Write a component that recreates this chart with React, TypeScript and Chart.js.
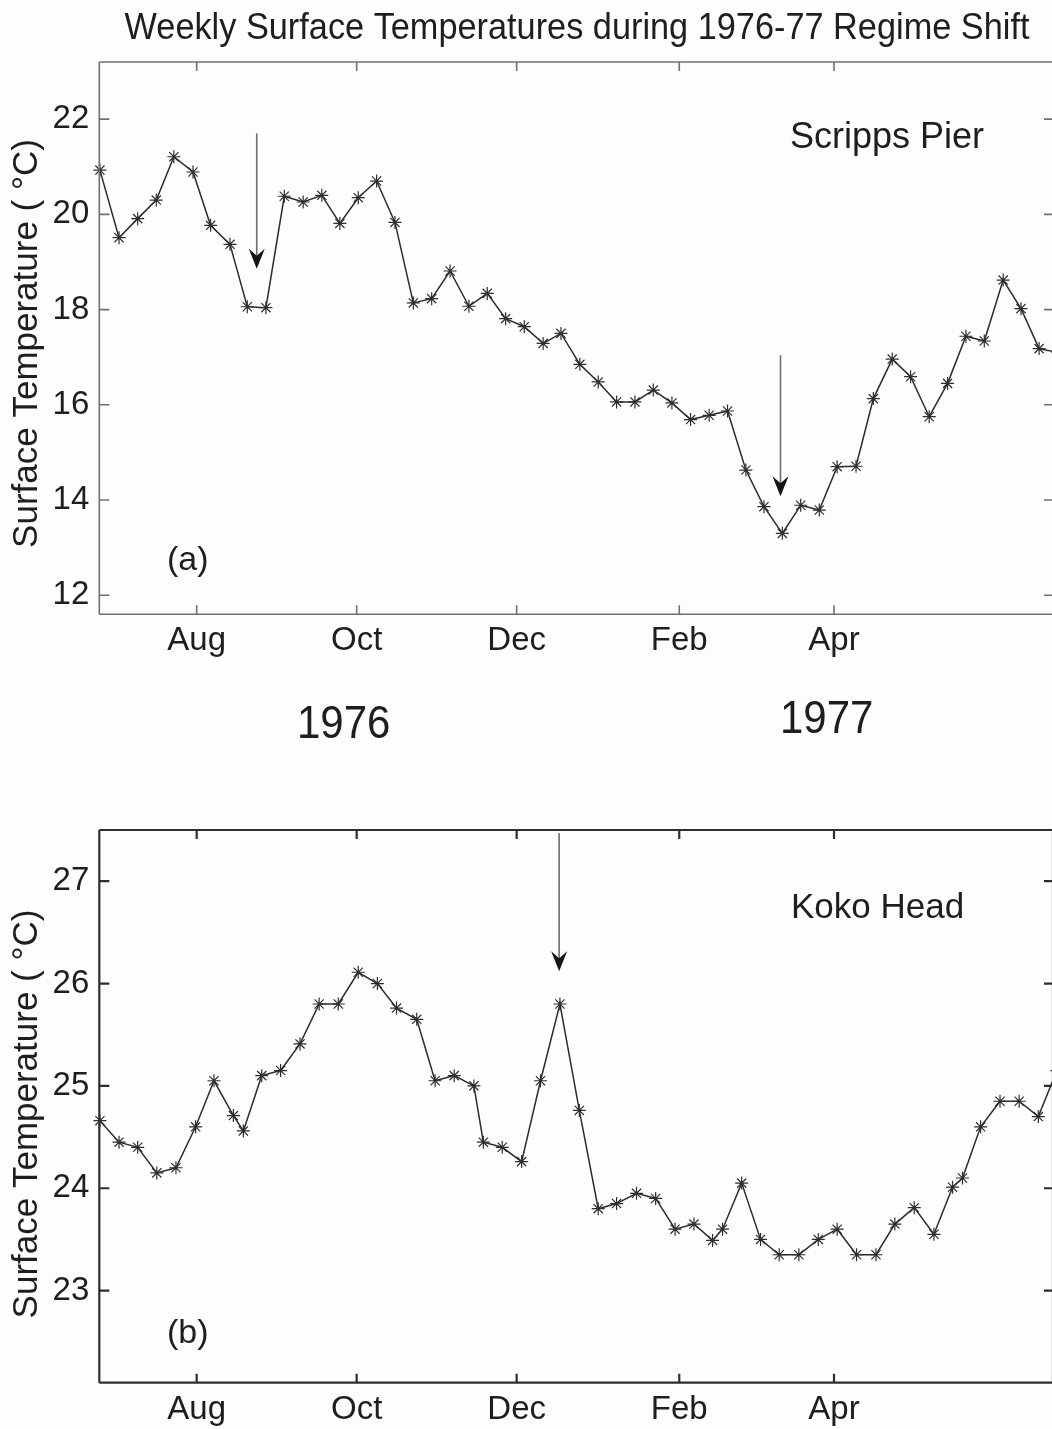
import React, { useEffect, useRef } from 'react';
import { Chart, registerables } from 'chart.js';

Chart.register(...registerables);

const FONT = '"Liberation Sans", Arial, Helvetica, sans-serif';

// x axis: days since 1 Aug 1976
const monthTickDays = [0, 61, 122, 184, 243];
const monthTickLabels = ['Aug', 'Oct', 'Dec', 'Feb', 'Apr'];

// Panel (a) Scripps Pier
const scrippsDays = [
  -36.9, -29.6, -22.5, -15.4, -8.7, -1.4, 5.3, 12.7, 19.3, 26.4,
  33.4, 40.6, 47.7, 54.6, 61.6, 68.6, 75.6, 82.6, 89.6, 96.6,
  103.8, 110.8, 117.8, 124.9, 132.1, 138.9, 146.1, 153.1, 160.1, 167.1,
  174.1, 181.2, 188.3, 195.4, 202.4, 209.4, 216.3, 223.3, 230.3, 237.4,
  244.2, 251.4, 258.0, 265.2, 272.2, 279.3, 286.3, 293.3, 300.3, 307.5,
  314.3, 321.2, 328.4,
];
const scrippsTemps = [
  20.93, 19.51, 19.91, 20.30, 21.21, 20.89, 19.77, 19.37, 18.06, 18.04,
  20.38, 20.26, 20.40, 19.81, 20.35, 20.70, 19.83, 18.14, 18.23, 18.81,
  18.07, 18.34, 17.81, 17.64, 17.29, 17.50, 16.85, 16.48, 16.06, 16.06,
  16.31, 16.04, 15.69, 15.78, 15.87, 14.63, 13.86, 13.30, 13.89, 13.79,
  14.70, 14.71, 16.13, 16.96, 16.59, 15.75, 16.45, 17.44, 17.34, 18.62,
  18.02, 17.18, 17.10,
];
const scrippsYTicks = [12, 14, 16, 18, 20, 22];
const scrippsArrows = [
  { day: 22.9, from: 21.7, to: 18.86 },
  { day: 222.6, from: 17.04, to: 14.08 },
];

// Panel (b) Koko Head
const kokoDays = [
  -36.9, -29.6, -22.5, -15.2, -7.9, -0.4, 6.6, 14.0, 17.8, 24.8,
  32.0, 39.4, 46.7, 54.0, 61.6, 68.9, 76.2, 83.9, 90.9, 98.2,
  105.7, 109.3, 116.5, 123.9, 131.1, 138.5, 145.9, 153.1, 160.1, 167.7,
  175.0, 182.4, 189.6, 196.7, 200.5, 207.8, 215.0, 222.1, 229.6, 237.0,
  244.2, 251.6, 259.0, 266.2, 273.6, 281.1, 288.2, 292.0, 298.9, 306.3,
  313.6, 320.9, 328.0,
];
const kokoTemps = [
  24.66, 24.45, 24.40, 24.15, 24.20, 24.60, 25.05, 24.71, 24.56, 25.10,
  25.15, 25.41, 25.80, 25.80, 26.11, 26.00, 25.76, 25.65, 25.05, 25.10,
  25.00, 24.45, 24.40, 24.26, 25.05, 25.80, 24.76, 23.80, 23.85, 23.95,
  23.90, 23.60, 23.65, 23.49, 23.60, 24.05, 23.50, 23.35, 23.35, 23.50,
  23.60, 23.35, 23.35, 23.65, 23.81, 23.55, 24.01, 24.10, 24.60, 24.85,
  24.85, 24.70, 25.15,
];
const kokoYTicks = [23, 24, 25, 26, 27];
const kokoArrows = [{ day: 138.2, from: 27.47, to: 26.12 }];

const X_MIN = -37.13;
const X_MAX = 326.5;
const CANVAS_W = 1060;
const TEXT_COLOR = '#1e1e1e';

function drawText(ctx: CanvasRenderingContext2D, str: string, x: number, y: number, size: number, opts: any = {}) {
  ctx.save();
  ctx.translate(x, y);
  if (opts.rotate) ctx.rotate(opts.rotate);
  if (opts.sy) ctx.scale(1, opts.sy);
  ctx.font = `${size}px ${FONT}`;
  ctx.fillStyle = TEXT_COLOR;
  ctx.textAlign = opts.align || 'left';
  ctx.textBaseline = opts.baseline || 'alphabetic';
  ctx.fillText(str, 0, 0);
  ctx.restore();
}

type Spec = {
  days: number[];
  temps: number[];
  yMin: number;
  yMax: number;
  yTicks: number[];
  arrows: { day: number; from: number; to: number }[];
  height: number;
  top: number;
  padTop: number;
  xAxisHeight: number;
  frameColor: string;
  frameWidth: number;
  texts: (ctx: CanvasRenderingContext2D) => void;
};

function Panel({ spec }: { spec: Spec }) {
  const ref = useRef<HTMLCanvasElement | null>(null);
  useEffect(() => {
    const canvas = ref.current;
    if (!canvas) return;
    const decor = {
      id: 'decor',
      afterDraw(chart: any) {
        const ctx: CanvasRenderingContext2D = chart.ctx;
        const a = chart.chartArea;
        const xs = chart.scales.x;
        const ys = chart.scales.y;
        const right = a.right;
        ctx.save();
        ctx.strokeStyle = spec.frameColor;
        ctx.lineWidth = spec.frameWidth;
        ctx.lineCap = 'butt';
        ctx.beginPath();
        ctx.moveTo(a.left, a.top);
        ctx.lineTo(right, a.top);
        ctx.moveTo(a.left, a.top);
        ctx.lineTo(a.left, a.bottom);
        ctx.moveTo(a.left, a.bottom);
        ctx.lineTo(right, a.bottom);
        ctx.moveTo(right, a.top);
        ctx.lineTo(right, a.bottom);
        // inward ticks
        monthTickDays.forEach((d) => {
          const px = xs.getPixelForValue(d);
          ctx.moveTo(px, a.bottom);
          ctx.lineTo(px, a.bottom - 9);
          ctx.moveTo(px, a.top);
          ctx.lineTo(px, a.top + 9);
        });
        spec.yTicks.forEach((v) => {
          const py = ys.getPixelForValue(v);
          ctx.moveTo(a.left, py);
          ctx.lineTo(a.left + 10, py);
          ctx.moveTo(right, py);
          ctx.lineTo(right - 9, py);
        });
        ctx.stroke();

        // arrows
        spec.arrows.forEach((ar) => {
          const px = xs.getPixelForValue(ar.day);
          const y0 = ys.getPixelForValue(ar.from);
          const tip = ys.getPixelForValue(ar.to);
          ctx.strokeStyle = '#6e6e6e';
          ctx.lineWidth = 1.6;
          ctx.beginPath();
          ctx.moveTo(px, y0);
          ctx.lineTo(px, tip - 12);
          ctx.stroke();
          ctx.fillStyle = '#141414';
          ctx.beginPath();
          ctx.moveTo(px, tip);
          ctx.lineTo(px - 8, tip - 20);
          ctx.lineTo(px, tip - 13);
          ctx.lineTo(px + 8, tip - 20);
          ctx.closePath();
          ctx.fill();
        });
        ctx.restore();
        spec.texts(ctx);
      },
    };

    const chart = new Chart(canvas, {
      type: 'line',
      data: {
        datasets: [
          {
            data: spec.days.map((d, i) => ({ x: d, y: spec.temps[i] })),
            borderColor: '#2c2c2c',
            borderWidth: 1.5,
            tension: 0,
            pointStyle: 'star',
            pointRadius: 6.5,
            pointBorderColor: '#2e2e2e',
            pointBorderWidth: 1.2,
            pointBackgroundColor: 'rgba(0,0,0,0)',
            clip: { left: 9, top: 9, right: 0, bottom: 9 } as any,
          },
        ],
      },
      options: {
        responsive: false,
        maintainAspectRatio: false,
        animation: false,
        devicePixelRatio: 1,
        layout: { autoPadding: false, padding: { top: spec.padTop, right: 7, left: 0, bottom: 0 } },
        plugins: { legend: { display: false }, tooltip: { enabled: false }, title: { display: false } },
        events: [],
        scales: {
          x: {
            type: 'linear',
            min: X_MIN,
            max: X_MAX,
            grid: { display: false, drawTicks: false },
            border: { display: false },
            afterBuildTicks: (s: any) => {
              s.ticks = monthTickDays.map((v) => ({ value: v }));
            },
            afterFit: (s: any) => {
              s.height = spec.xAxisHeight;
            },
            ticks: {
              autoSkip: false,
              maxRotation: 0,
              minRotation: 0,
              padding: 7,
              color: TEXT_COLOR,
              font: { family: FONT, size: 33 },
              callback: (v: any) => {
                const i = monthTickDays.indexOf(Number(v));
                return i >= 0 ? monthTickLabels[i] : '';
              },
            },
          },
          y: {
            type: 'linear',
            min: spec.yMin,
            max: spec.yMax,
            grid: { display: false, drawTicks: false },
            border: { display: false },
            afterBuildTicks: (s: any) => {
              s.ticks = spec.yTicks.map((v) => ({ value: v }));
            },
            afterFit: (s: any) => {
              s.width = 99.3;
            },
            ticks: {
              autoSkip: false,
              padding: 10,
              color: TEXT_COLOR,
              font: { family: FONT, size: 33 },
              callback: (v: any) => String(v),
            },
          },
        },
      },
      plugins: [decor],
    } as any);
    return () => chart.destroy();
  }, [spec]);

  return (
    <canvas
      ref={ref}
      width={CANVAS_W}
      height={spec.height}
      style={{ position: 'absolute', left: 0, top: spec.top, width: CANVAS_W, height: spec.height }}
    />
  );
}

const topSpec: Spec = {
  days: scrippsDays,
  temps: scrippsTemps,
  yMin: 11.6,
  yMax: 23.2,
  yTicks: scrippsYTicks,
  arrows: scrippsArrows,
  height: 760,
  top: 0,
  padTop: 62,
  xAxisHeight: 145.7,
  frameColor: '#707070',
  frameWidth: 1.6,
  texts: (ctx) => {
    drawText(ctx, 'Weekly Surface Temperatures during 1976-77 Regime Shift', 577, 39, 34.3, { align: 'center', sy: 1.08 });
    drawText(ctx, 'Scripps Pier', 790, 148, 36);
    drawText(ctx, '(a)', 167, 570, 34);
    drawText(ctx, 'Surface Temperature ( \u00B0C)', 27.5, 343.5, 35, {
      align: 'center',
      baseline: 'middle',
      rotate: -Math.PI / 2,
    });
    drawText(ctx, '1976', 297, 738, 42, { sy: 1.1 });
    drawText(ctx, '1977', 780, 733, 42, { sy: 1.1 });
  },
};

const bottomSpec: Spec = {
  days: kokoDays,
  temps: kokoTemps,
  yMin: 22.1,
  yMax: 27.5,
  yTicks: kokoYTicks,
  arrows: kokoArrows,
  height: 669,
  top: 760,
  padTop: 70,
  xAxisHeight: 46.3,
  frameColor: '#2e2e2e',
  frameWidth: 2.2,
  texts: (ctx) => {
    drawText(ctx, 'Koko Head', 791, 158.3, 35);
    drawText(ctx, '(b)', 167, 583, 34);
    drawText(ctx, 'Surface Temperature ( \u00B0C)', 27.5, 354, 35, {
      align: 'center',
      baseline: 'middle',
      rotate: -Math.PI / 2,
    });
  },
};

export default function App() {
  return (
    <div
      style={{
        position: 'absolute',
        left: 0,
        top: 0,
        width: 1052,
        height: 1429,
        overflow: 'hidden',
        background: '#fdfdfd',
      }}
    >
      <Panel spec={topSpec} />
      <Panel spec={bottomSpec} />
    </div>
  );
}
